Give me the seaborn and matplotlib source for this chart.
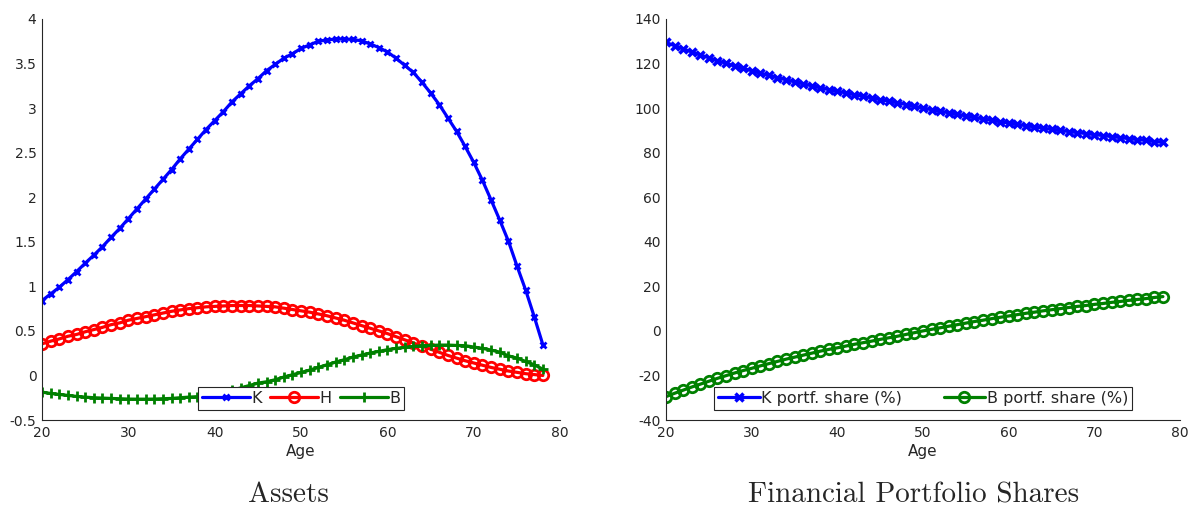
import numpy as np
import pandas as pd
import matplotlib
matplotlib.use("Agg")
import matplotlib.pyplot as plt
import seaborn as sbn
from matplotlib.ticker import FuncFormatter

# ages 20..78
age = list(range(20, 79))

# assets (left panel)
K = [0.84, 0.915, 0.99, 1.075, 1.165, 1.26, 1.35, 1.445, 1.55, 1.65,
     1.76, 1.87, 1.98, 2.09, 2.20, 2.31, 2.43, 2.54, 2.65, 2.76,
     2.86, 2.96, 3.07, 3.16, 3.25, 3.33, 3.42, 3.49, 3.56, 3.61,
     3.67, 3.71, 3.75, 3.765, 3.775, 3.775, 3.77, 3.755, 3.72, 3.68,
     3.63, 3.56, 3.48, 3.40, 3.29, 3.17, 3.04, 2.89, 2.74, 2.57,
     2.39, 2.19, 1.97, 1.745, 1.51, 1.23, 0.96, 0.66, 0.345]
H = [0.355, 0.385, 0.41, 0.44, 0.46, 0.49, 0.515, 0.54, 0.57, 0.59,
     0.62, 0.64, 0.66, 0.68, 0.70, 0.72, 0.735, 0.75, 0.76, 0.77,
     0.775, 0.78, 0.785, 0.785, 0.785, 0.78, 0.775, 0.77, 0.755, 0.74,
     0.725, 0.71, 0.69, 0.67, 0.645, 0.62, 0.59, 0.56, 0.53, 0.50,
     0.47, 0.435, 0.40, 0.365, 0.33, 0.295, 0.26, 0.225, 0.195, 0.165,
     0.14, 0.115, 0.09, 0.07, 0.05, 0.035, 0.02, 0.01, 0.0]
B = [-0.187, -0.202, -0.213, -0.224, -0.235, -0.243, -0.25, -0.254, -0.258, -0.261,
     -0.265, -0.266, -0.266, -0.265, -0.261, -0.258, -0.25, -0.243, -0.238, -0.232,
     -0.212, -0.19, -0.166, -0.14, -0.113, -0.086, -0.071, -0.048, -0.018, 0.008,
     0.034, 0.06, 0.09, 0.12, 0.15, 0.176, 0.206, 0.229, 0.251, 0.27,
     0.289, 0.304, 0.315, 0.326, 0.334, 0.337, 0.341, 0.341, 0.337, 0.334,
     0.319, 0.304, 0.285, 0.262, 0.22, 0.195, 0.157, 0.12, 0.07]

# portfolio shares in % (right panel)
K_share = [129.5, 128.0, 126.6, 125.2, 123.9, 122.6, 121.3, 120.1, 118.9, 117.8,
           116.8, 115.7, 114.7, 113.7, 112.7, 111.8, 110.9, 110.0, 109.1, 108.3,
           107.6, 106.8, 106.0, 105.3, 104.6, 103.8, 103.1, 102.4, 101.6, 100.8,
           100.0, 99.3, 98.6, 97.9, 97.2, 96.5, 95.8, 95.2, 94.5, 93.9,
           93.3, 92.7, 92.1, 91.6, 91.0, 90.5, 90.0, 89.5, 89.0, 88.6,
           88.1, 87.7, 87.2, 86.8, 86.3, 85.9, 85.5, 85.0, 84.6]
B_share = [-29.5, -28.0, -26.6, -25.2, -23.9, -22.6, -21.3, -20.1, -18.9, -17.8,
           -16.8, -15.7, -14.7, -13.7, -12.7, -11.8, -10.9, -10.0, -9.1, -8.3,
           -7.6, -6.8, -6.0, -5.3, -4.6, -3.8, -3.1, -2.4, -1.6, -0.8,
           0.0, 0.7, 1.4, 2.1, 2.8, 3.5, 4.2, 4.8, 5.5, 6.1,
           6.7, 7.3, 7.9, 8.4, 9.0, 9.5, 10.0, 10.5, 11.0, 11.4,
           11.9, 12.3, 12.8, 13.2, 13.7, 14.1, 14.5, 15.0, 15.4]

df = pd.DataFrame({"Age": age, "K": K, "H": H, "B": B,
                   "Kshare": K_share, "Bshare": B_share})

sbn.set_theme(style="white")
plt.rcParams["font.family"] = ["DejaVu Sans"]
plt.rcParams["axes.unicode_minus"] = False

fig = plt.figure(figsize=(11.91, 5.08), dpi=100)
ax1 = fig.add_axes([0.0353, 0.1732, 0.4350, 0.7894])
ax2 = fig.add_axes([0.5592, 0.1732, 0.4316, 0.7894])

blue = (0, 0, 1)
red = (1, 0, 0)
green = (0, 0.5, 0)
lw = 2.3

sbn.lineplot(data=df, x="Age", y="K", ax=ax1, color=blue, linewidth=lw,
             marker="x", markersize=5, markeredgewidth=2, markeredgecolor=blue, label="K")
sbn.lineplot(data=df, x="Age", y="H", ax=ax1, color=red, linewidth=lw,
             marker="o", markersize=7.5, markeredgewidth=2, markeredgecolor=red,
             fillstyle="none", label="H")
sbn.lineplot(data=df, x="Age", y="B", ax=ax1, color=green, linewidth=lw,
             marker="+", markersize=7, markeredgewidth=2, markeredgecolor=green, label="B")

sbn.lineplot(data=df, x="Age", y="Kshare", ax=ax2, color=blue, linewidth=lw,
             marker="x", markersize=6, markeredgewidth=2.5, markeredgecolor=blue,
             label="K portf. share (%)")
sbn.lineplot(data=df, x="Age", y="Bshare", ax=ax2, color=green, linewidth=lw,
             marker="o", markersize=7.5, markeredgewidth=2, markeredgecolor=green,
             fillstyle="none", label="B portf. share (%)")

fmt = FuncFormatter(lambda v, p: "%g" % v)
ax1.set_xlim(20, 80)
ax1.set_ylim(-0.5, 4)
ax1.set_yticks(np.arange(-0.5, 4.01, 0.5))
ax2.set_xlim(20, 80)
ax2.set_ylim(-40, 140)
ax2.set_yticks(np.arange(-40, 141, 20))

for ax in (ax1, ax2):
    ax.set_xticks(np.arange(20, 81, 10))
    ax.yaxis.set_major_formatter(fmt)
    ax.xaxis.set_major_formatter(fmt)
    ax.set_xlabel("Age", fontsize=11, color="#262626", labelpad=3)
    ax.set_ylabel("")
    for s in ("top", "right"):
        ax.spines[s].set_visible(False)
    for s in ("left", "bottom"):
        ax.spines[s].set_color("#262626")
        ax.spines[s].set_linewidth(0.8)
    ax.tick_params(direction="in", length=4, width=0.8, colors="#262626",
                   labelsize=10, pad=4)

leg1 = ax1.legend(loc="lower center", bbox_to_anchor=(0.5, 0.025), ncol=3,
                  fontsize=11.5, frameon=True, fancybox=False, handlelength=3.0,
                  handletextpad=0.1, columnspacing=0.5, borderpad=0.25,
                  borderaxespad=0)
leg2 = ax2.legend(loc="lower center", bbox_to_anchor=(0.5, 0.025), ncol=2,
                  fontsize=11.5, frameon=True, fancybox=False, handlelength=2.6,
                  handletextpad=0.1, columnspacing=2.6, borderpad=0.25,
                  borderaxespad=0)
for leg in (leg1, leg2):
    leg.get_frame().set_edgecolor("#262626")
    leg.get_frame().set_linewidth(0.8)
    leg.get_frame().set_alpha(1)

fig.text(0.242, 0.025, "Assets", family="cmr10", fontsize=21, ha="center", va="center")
fig.text(0.767, 0.025, "Financial Portfolio Shares", family="cmr10", fontsize=21,
         ha="center", va="center")

fig.savefig("out.png", dpi=100, facecolor="white")
